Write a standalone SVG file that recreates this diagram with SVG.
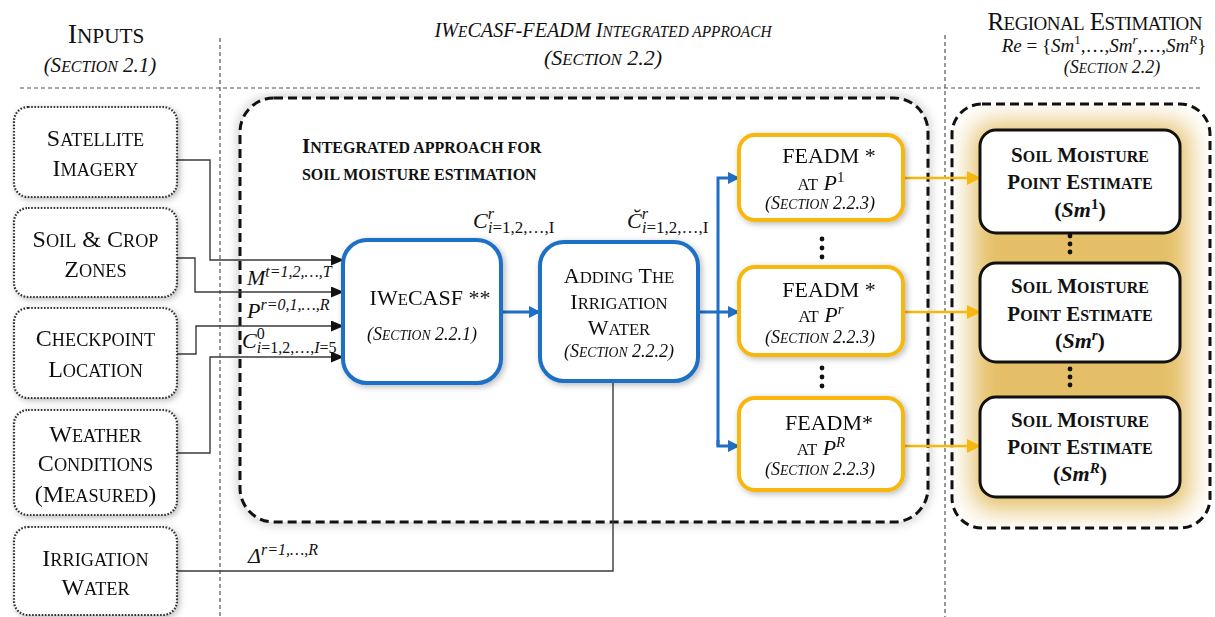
<svg xmlns="http://www.w3.org/2000/svg" width="1215" height="617" viewBox="0 0 1215 617">
  <style>
    text { font-family: "Liberation Serif", "Times New Roman", serif; fill: #111; }
    .s { font-size: 76%; }
    .in { font-size: 24px; text-anchor: middle; }
    .hd { font-size: 28px; text-anchor: middle; }
    .it { font-style: italic; }
    .mid { text-anchor: middle; }
    .b { font-weight: bold; }
    .sec { font-size: 18px; font-style: italic; text-anchor: middle; }
    .math { font-style: italic; font-size: 22px; }
    .sub { font-size: 16px; }
    .div { stroke: #555; stroke-width: 1.2; stroke-dasharray: 4 3; fill: none; }
    .inbox { fill: #fff; stroke: #333; stroke-width: 2.2; stroke-dasharray: 1.6 1.6; }
    .blue { fill: #fff; stroke: #1f6fc6; stroke-width: 4; }
    .gold { fill: #fff; stroke: #f7b70c; stroke-width: 4; }
    .sm { fill: #fff; stroke: #111; stroke-width: 3; }
    .wire { fill: none; stroke: #3a3a3a; stroke-width: 1.4; }
    .bwire { fill: none; stroke: #1f6fc6; stroke-width: 3; }
    .gwire { fill: none; stroke: #f7b70c; stroke-width: 2.5; }
    .dot { fill: #111; }
  </style>
  <defs>
    <marker id="ab" markerWidth="13" markerHeight="11" refX="12" refY="5.5" orient="auto" markerUnits="userSpaceOnUse">
      <path d="M0,0 L13,5.5 L0,11 Z" fill="#111"/>
    </marker>
    <marker id="abl" markerWidth="12" markerHeight="12" refX="11" refY="6" orient="auto" markerUnits="userSpaceOnUse">
      <path d="M0,0 L12,6 L0,12 Z" fill="#1f6fc6"/>
    </marker>
    <marker id="ago" markerWidth="14" markerHeight="14" refX="13" refY="7" orient="auto" markerUnits="userSpaceOnUse">
      <path d="M0,0 L14,7 L0,14 Z" fill="#f7b70c"/>
    </marker>
    <filter id="sh" x="-20%" y="-20%" width="140%" height="140%">
      <feDropShadow dx="2" dy="2" stdDeviation="3" flood-color="#000" flood-opacity="0.28"/>
    </filter>
    <filter id="glow" x="-10%" y="-10%" width="120%" height="120%">
      <feGaussianBlur stdDeviation="4"/>
    </filter>
    <filter id="haze" x="-30%" y="-30%" width="160%" height="160%">
      <feGaussianBlur stdDeviation="13"/>
    </filter>
    <clipPath id="regionClip">
      <rect x="952" y="104" width="258" height="424" rx="30"/>
    </clipPath>
  </defs>

  <!-- column dividers -->
  <g id="dividers">
    <line class="div" x1="20" y1="88" x2="1200" y2="88"/>
    <line class="div" x1="220" y1="38" x2="220" y2="617"/>
    <line class="div" x1="945" y1="35" x2="945" y2="617"/>
  </g>

  <!-- column headings -->
  <g id="headings">
    <text class="hd" x="106" y="43">I<tspan class="s">NPUTS</tspan></text>
    <text class="it mid" x="100" y="72" font-size="21">(S<tspan class="s">ECTION</tspan> 2.1)</text>
    <text class="it mid" x="603" y="37" font-size="21" textLength="337" lengthAdjust="spacingAndGlyphs">IW<tspan class="s">E</tspan>CASF-FEADM I<tspan class="s">NTEGRATED APPROACH</tspan></text>
    <text class="it mid" x="603" y="65" font-size="22">(S<tspan class="s">ECTION</tspan> 2.2)</text>
    <text class="mid" x="1095" y="30" font-size="25" textLength="215">R<tspan class="s">EGIONAL</tspan> E<tspan class="s">STIMATION</tspan></text>
    <text class="mid" x="1104" y="52" font-size="19"><tspan class="it">Re</tspan> = {<tspan class="it">Sm</tspan><tspan dy="-8" font-size="13">1</tspan><tspan dy="8">,…,</tspan><tspan class="it">Sm</tspan><tspan dy="-8" font-size="13" class="it">r</tspan><tspan dy="8">,…,</tspan><tspan class="it">Sm</tspan><tspan dy="-8" font-size="13" class="it">R</tspan><tspan dy="8">}</tspan></text>
    <text class="it mid" x="1112" y="73" font-size="18">(S<tspan class="s">ECTION</tspan> 2.2)</text>
  </g>

  <!-- integrated approach container -->
  <g id="integrated-container">
    <rect x="240" y="98" width="688" height="424" rx="34" fill="none" stroke="#999" stroke-width="7" filter="url(#glow)" opacity="0.45"/>
    <rect x="240" y="98" width="688" height="424" rx="34" fill="#fff" stroke="#111" stroke-width="3" stroke-dasharray="9 5"/>
    <text class="b" x="302" y="153" font-size="21">I<tspan class="s">NTEGRATED APPROACH FOR</tspan></text>
    <text class="b" x="302" y="180" font-size="21"><tspan class="s">SOIL MOISTURE ESTIMATION</tspan></text>
  </g>

  <!-- regional estimation container -->
  <g id="regional-container">
    <rect x="952" y="104" width="258" height="424" rx="30" fill="#fff"/>
    <g clip-path="url(#regionClip)">
      <rect x="972" y="122" width="218" height="388" rx="20" fill="#e0b44e" opacity="0.85" filter="url(#haze)"/>
    </g>
    <rect x="952" y="104" width="258" height="424" rx="30" fill="none" stroke="#111" stroke-width="3" stroke-dasharray="9 5"/>
  </g>

  <!-- connectors -->
  <g id="connectors">
    <path class="wire" d="M177,160 H210 V260 H343" marker-end="url(#ab)"/>
    <path class="wire" d="M177,258 H195 V292 H343" marker-end="url(#ab)"/>
    <path class="wire" d="M177,354 H196 V326 H343" marker-end="url(#ab)"/>
    <path class="wire" d="M177,453 H210 V357 H343" marker-end="url(#ab)"/>
    <path class="wire" d="M177,571 H613 V382"/>
    <path class="bwire" d="M502,312 H540" marker-end="url(#abl)"/>
    <path class="bwire" d="M698,312 H739" marker-end="url(#abl)"/>
    <path class="bwire" d="M718,446 V178 H739" marker-end="url(#abl)"/>
    <path class="bwire" d="M718,440 V446 H739" marker-end="url(#abl)"/>
    <path class="gwire" d="M903,178 H980" marker-end="url(#ago)"/>
    <path class="gwire" d="M903,312 H980" marker-end="url(#ago)"/>
    <path class="gwire" d="M903,446 H980" marker-end="url(#ago)"/>
  </g>

  <!-- connector labels -->
  <g id="labels">
    <text class="math" x="247" y="285">M<tspan class="sub" dy="-8">t=1,2,…,T</tspan></text>
    <text class="math" x="247" y="318">P<tspan class="sub" dy="-8">r=0,1,…,R</tspan></text>
    <text class="math" x="242" y="348">C<tspan class="sub" dy="-9" font-style="normal">0</tspan><tspan class="sub" dx="-8" dy="14">i</tspan><tspan class="sub" font-style="normal">=1,2,…,</tspan><tspan class="sub">I</tspan><tspan class="sub" font-style="normal">=5</tspan></text>
    <text class="math" x="473" y="228">C<tspan class="sub" dy="-9">r</tspan><tspan class="sub" dx="-6" dy="14">i</tspan><tspan font-size="17" font-style="normal">=1,2,…,I</tspan></text>
    <text class="math" x="627" y="228">C&#x306;<tspan class="sub" dy="-9">r</tspan><tspan class="sub" dx="-6" dy="14">i</tspan><tspan font-size="17" font-style="normal">=1,2,…,I</tspan></text>
    <text class="math" x="248" y="563">Δ<tspan class="sub" dy="-8">r=1,…,R</tspan></text>
  </g>

  <!-- inputs -->
  <g id="satellite-imagery" filter="url(#sh)">
    <rect class="inbox" x="14" y="107" width="163" height="90" rx="14"/>
    <text class="in" x="95.5" y="146">S<tspan class="s">ATELLITE</tspan></text>
    <text class="in" x="95.5" y="176">I<tspan class="s">MAGERY</tspan></text>
  </g>
  <g id="soil-crop-zones" filter="url(#sh)">
    <rect class="inbox" x="14" y="208" width="163" height="89" rx="14"/>
    <text class="in" x="95.5" y="247">S<tspan class="s">OIL</tspan> &amp; C<tspan class="s">ROP</tspan></text>
    <text class="in" x="95.5" y="277">Z<tspan class="s">ONES</tspan></text>
  </g>
  <g id="checkpoint-location" filter="url(#sh)">
    <rect class="inbox" x="14" y="308" width="163" height="90" rx="14"/>
    <text class="in" x="95.5" y="346">C<tspan class="s">HECKPOINT</tspan></text>
    <text class="in" x="95.5" y="377">L<tspan class="s">OCATION</tspan></text>
  </g>
  <g id="weather-conditions" filter="url(#sh)">
    <rect class="inbox" x="14" y="410" width="163" height="105" rx="14"/>
    <text class="in" x="95.5" y="442">W<tspan class="s">EATHER</tspan></text>
    <text class="in" x="95.5" y="471">C<tspan class="s">ONDITIONS</tspan></text>
    <text class="in" x="95.5" y="502">(M<tspan class="s">EASURED</tspan>)</text>
  </g>
  <g id="irrigation-water" filter="url(#sh)">
    <rect class="inbox" x="14" y="527" width="163" height="88" rx="14"/>
    <text class="in" x="95.5" y="566">I<tspan class="s">RRIGATION</tspan></text>
    <text class="in" x="95.5" y="595">W<tspan class="s">ATER</tspan></text>
  </g>

  <!-- processing steps -->
  <g id="iwecasf" filter="url(#sh)">
    <rect class="blue" x="343" y="240" width="158" height="143" rx="24"/>
    <text class="mid" x="430" y="305" font-size="22">IW<tspan class="s">E</tspan>CASF **</text>
    <text class="sec" x="422" y="340">(S<tspan class="s">ECTION</tspan> 2.2.1)</text>
  </g>
  <g id="adding-irrigation" filter="url(#sh)">
    <rect class="blue" x="540" y="242" width="158" height="139" rx="24"/>
    <text class="mid" x="619" y="283" font-size="22">A<tspan class="s">DDING</tspan> T<tspan class="s">HE</tspan></text>
    <text class="mid" x="619" y="309" font-size="22">I<tspan class="s">RRIGATION</tspan></text>
    <text class="mid" x="619" y="335" font-size="22">W<tspan class="s">ATER</tspan></text>
    <text class="sec" x="619" y="357">(S<tspan class="s">ECTION</tspan> 2.2.2)</text>
  </g>

  <g id="feadm-1" filter="url(#sh)">
    <rect class="gold" x="739" y="135" width="164" height="85" rx="16"/>
    <text class="mid" x="829" y="163" font-size="22">FEADM *</text>
    <text class="mid" x="821" y="190" font-size="22"><tspan class="s">AT</tspan>  <tspan class="it">P</tspan><tspan dy="-8" font-size="15">1</tspan></text>
    <text class="sec" x="820" y="209">(S<tspan class="s">ECTION</tspan> 2.2.3)</text>
  </g>
  <g id="feadm-r" filter="url(#sh)">
    <rect class="gold" x="739" y="267" width="164" height="88" rx="16"/>
    <text class="mid" x="829" y="297" font-size="22">FEADM *</text>
    <text class="mid" x="821" y="322" font-size="22"><tspan class="s">AT</tspan>  <tspan class="it">P</tspan><tspan dy="-8" font-size="15" class="it">r</tspan></text>
    <text class="sec" x="820" y="343">(S<tspan class="s">ECTION</tspan> 2.2.3)</text>
  </g>
  <g id="feadm-R" filter="url(#sh)">
    <rect class="gold" x="739" y="398" width="164" height="92" rx="16"/>
    <text class="mid" x="829" y="430" font-size="22">FEADM*</text>
    <text class="mid" x="821" y="455" font-size="22"><tspan class="s">AT</tspan>  <tspan class="it">P</tspan><tspan dy="-8" font-size="15" class="it">R</tspan></text>
    <text class="sec" x="820" y="475">(S<tspan class="s">ECTION</tspan> 2.2.3)</text>
  </g>
  <g id="feadm-ellipsis">
    <circle class="dot" cx="822" cy="239" r="2.4"/>
    <circle class="dot" cx="822" cy="248" r="2.4"/>
    <circle class="dot" cx="822" cy="257" r="2.4"/>
    <circle class="dot" cx="822" cy="368" r="2.4"/>
    <circle class="dot" cx="822" cy="377" r="2.4"/>
    <circle class="dot" cx="822" cy="386" r="2.4"/>
  </g>

  <!-- point estimates -->
  <g id="sm-1">
    <rect class="sm" x="980" y="130" width="200" height="103" rx="16"/>
    <text class="mid b" x="1080" y="162" font-size="21">S<tspan class="s">OIL</tspan> M<tspan class="s">OISTURE</tspan></text>
    <text class="mid b" x="1080" y="189" font-size="21">P<tspan class="s">OINT</tspan> E<tspan class="s">STIMATE</tspan></text>
    <text class="mid b" x="1080" y="217" font-size="22">(<tspan class="it">Sm</tspan><tspan dy="-8" font-size="15">1</tspan><tspan dy="8">)</tspan></text>
  </g>
  <g id="sm-r">
    <rect class="sm" x="980" y="263" width="200" height="99" rx="16"/>
    <text class="mid b" x="1080" y="293" font-size="21">S<tspan class="s">OIL</tspan> M<tspan class="s">OISTURE</tspan></text>
    <text class="mid b" x="1080" y="321" font-size="21">P<tspan class="s">OINT</tspan> E<tspan class="s">STIMATE</tspan></text>
    <text class="mid b" x="1080" y="348" font-size="22">(<tspan class="it">Sm</tspan><tspan dy="-8" font-size="15" class="it">r</tspan><tspan dy="8">)</tspan></text>
  </g>
  <g id="sm-R">
    <rect class="sm" x="980" y="397" width="200" height="100" rx="16"/>
    <text class="mid b" x="1080" y="427" font-size="21">S<tspan class="s">OIL</tspan> M<tspan class="s">OISTURE</tspan></text>
    <text class="mid b" x="1080" y="454" font-size="21">P<tspan class="s">OINT</tspan> E<tspan class="s">STIMATE</tspan></text>
    <text class="mid b" x="1080" y="481" font-size="22">(<tspan class="it">Sm</tspan><tspan dy="-8" font-size="15" class="it">R</tspan><tspan dy="8">)</tspan></text>
  </g>
  <g id="sm-ellipsis">
    <circle class="dot" cx="1070" cy="236" r="2.4"/>
    <circle class="dot" cx="1070" cy="244" r="2.4"/>
    <circle class="dot" cx="1070" cy="252" r="2.4"/>
    <circle class="dot" cx="1070" cy="369" r="2.4"/>
    <circle class="dot" cx="1070" cy="377" r="2.4"/>
    <circle class="dot" cx="1070" cy="385" r="2.4"/>
  </g>
</svg>
